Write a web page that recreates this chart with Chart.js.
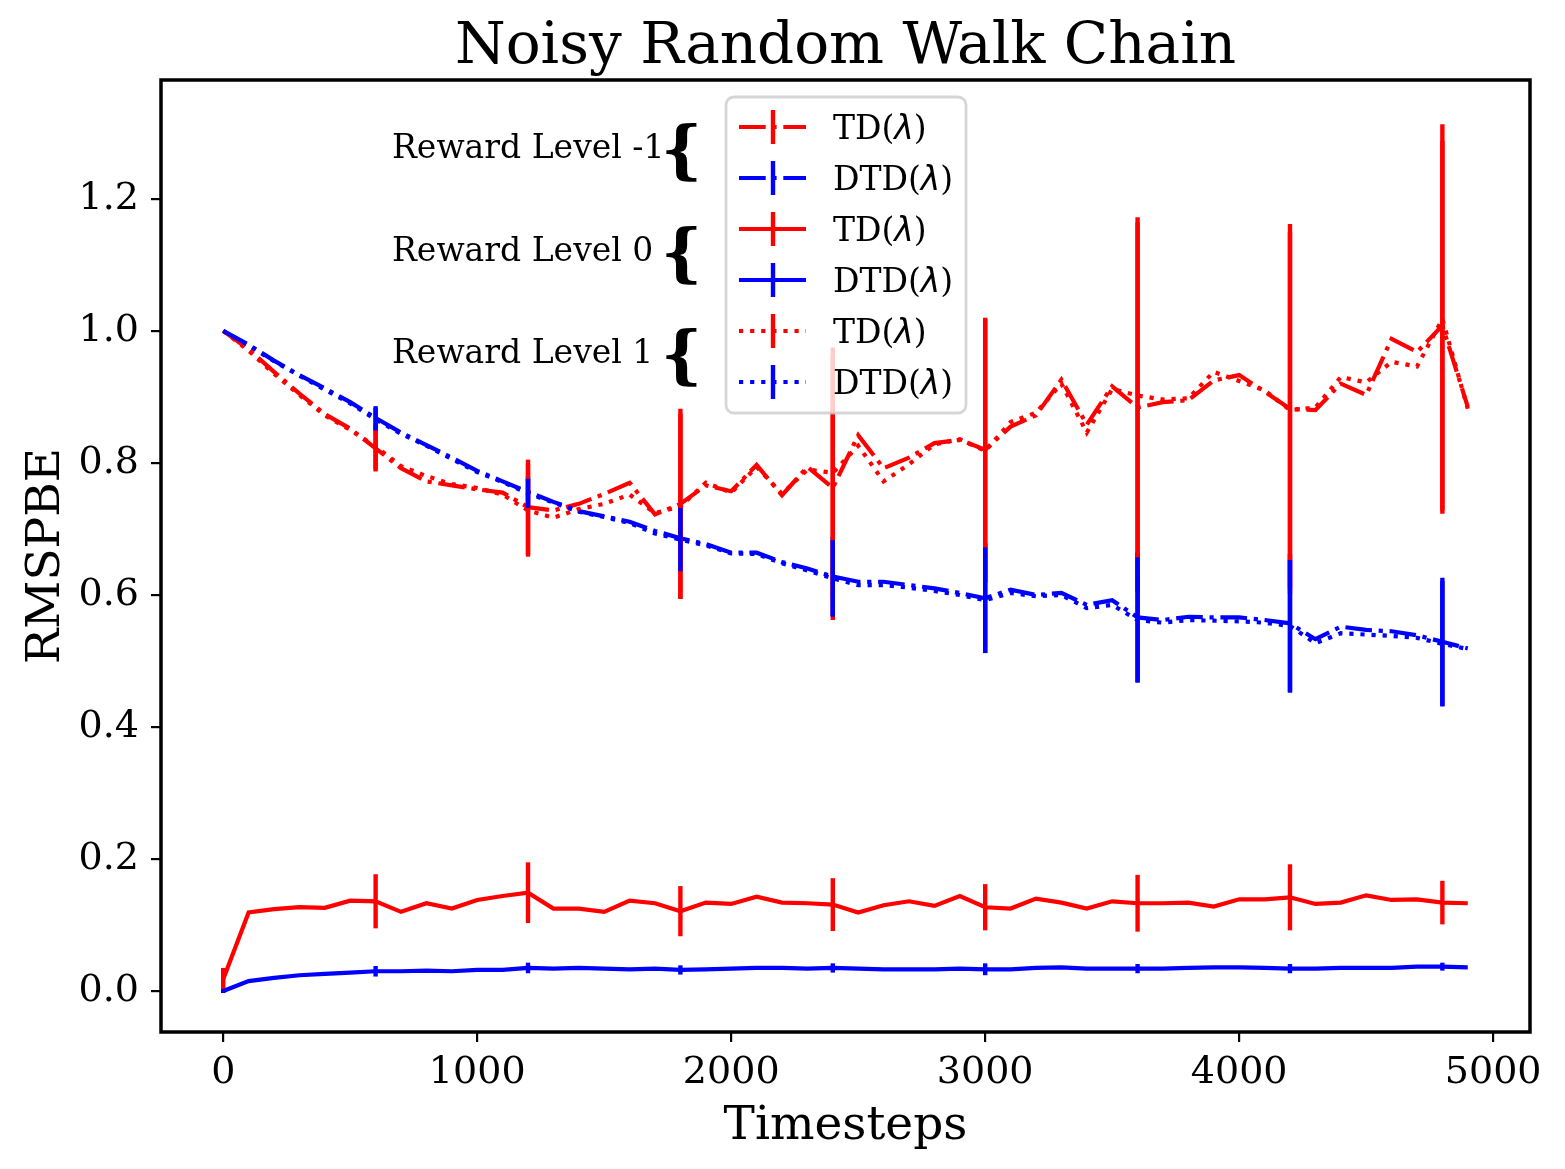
<!DOCTYPE html>
<html>
<head>
<meta charset="utf-8">
<title>Noisy Random Walk Chain</title>
<script src="https://cdn.jsdelivr.net/npm/chart.js@4.4.0/dist/chart.umd.min.js"></script>
<style>
    html, body { margin: 0; padding: 0; background: #fff; }
    #wrap { width: 1565px; height: 1169px; position: relative; }
</style>
</head>
<body>
<div id="wrap"><canvas id="chart"></canvas></div>
<script>
// data
const timesteps = [0, 100, 200, 300, 400, 500, 600, 700, 800, 900,
    1000, 1100, 1200, 1300, 1400, 1500, 1600, 1700, 1800, 1900,
    2000, 2100, 2200, 2300, 2400, 2500, 2600, 2700, 2800, 2900,
    3000, 3100, 3200, 3300, 3400, 3500, 3600, 3700, 3800, 3900,
    4000, 4100, 4200, 4300, 4400, 4500, 4600, 4700, 4800, 4900];

const errorTimes = [0, 600, 1200, 1800, 2400, 3000, 3600, 4200, 4800];

const xTicks = [0, 1000, 2000, 3000, 4000, 5000];
const yTicks = [0.0, 0.2, 0.4, 0.6, 0.8, 1.0, 1.2];

// reward level -1
const tdNeg = [1.000, 0.972, 0.938, 0.905, 0.874, 0.852, 0.822, 0.792, 0.772, 0.766,
    0.760, 0.755, 0.733, 0.728, 0.738, 0.753, 0.770, 0.722, 0.738, 0.766,
    0.757, 0.797, 0.751, 0.794, 0.762, 0.842, 0.792, 0.808, 0.830, 0.835,
    0.820, 0.855, 0.872, 0.926, 0.858, 0.916, 0.884, 0.892, 0.895, 0.925,
    0.933, 0.908, 0.882, 0.880, 0.920, 0.903, 0.988, 0.968, 1.008, 0.885];
const dtdNeg = [1.000, 0.979, 0.955, 0.933, 0.913, 0.892, 0.868, 0.846, 0.827, 0.808,
    0.788, 0.772, 0.756, 0.741, 0.727, 0.719, 0.711, 0.697, 0.686, 0.677,
    0.664, 0.664, 0.650, 0.640, 0.628, 0.620, 0.620, 0.615, 0.610, 0.603,
    0.595, 0.608, 0.600, 0.603, 0.585, 0.592, 0.566, 0.562, 0.567, 0.566,
    0.566, 0.562, 0.557, 0.533, 0.552, 0.547, 0.545, 0.539, 0.529, 0.519];
const tdNegErr = [0.0, 0.035, 0.072, 0.144, 0.20, 0.20, 0.28, 0.28, 0.28];
const dtdNegErr = [0.0, 0.018, 0.023, 0.050, 0.060, 0.083, 0.098, 0.105, 0.097];

// reward level 0
const tdZero = [0.018, 0.119, 0.124, 0.127, 0.126, 0.137, 0.136, 0.120, 0.133, 0.125,
    0.138, 0.144, 0.149, 0.125, 0.125, 0.120, 0.137, 0.133, 0.121, 0.134,
    0.132, 0.143, 0.134, 0.133, 0.131, 0.119, 0.130, 0.136, 0.129, 0.144,
    0.127, 0.125, 0.140, 0.134, 0.125, 0.136, 0.133, 0.133, 0.134, 0.128,
    0.139, 0.139, 0.142, 0.132, 0.134, 0.145, 0.138, 0.139, 0.134, 0.133];
const dtdZero = [0.000, 0.015, 0.020, 0.024, 0.026, 0.028, 0.030, 0.030, 0.031, 0.030,
    0.032, 0.032, 0.035, 0.034, 0.035, 0.034, 0.033, 0.034, 0.032, 0.033,
    0.034, 0.035, 0.035, 0.034, 0.035, 0.034, 0.033, 0.033, 0.033, 0.034,
    0.033, 0.033, 0.035, 0.036, 0.034, 0.034, 0.034, 0.034, 0.035, 0.036,
    0.036, 0.035, 0.034, 0.034, 0.035, 0.035, 0.035, 0.037, 0.037, 0.036];
const tdZeroErr = [0.017, 0.041, 0.046, 0.038, 0.040, 0.035, 0.043, 0.050, 0.033];
const dtdZeroErr = [0.003, 0.008, 0.008, 0.007, 0.007, 0.009, 0.007, 0.007, 0.006];

// reward level 1
const tdPos = [1.000, 0.970, 0.935, 0.903, 0.872, 0.850, 0.825, 0.795, 0.780, 0.768,
    0.762, 0.752, 0.728, 0.717, 0.730, 0.738, 0.752, 0.724, 0.734, 0.770,
    0.755, 0.794, 0.753, 0.790, 0.785, 0.826, 0.772, 0.798, 0.828, 0.836,
    0.818, 0.862, 0.876, 0.920, 0.846, 0.912, 0.902, 0.896, 0.898, 0.938,
    0.924, 0.910, 0.880, 0.884, 0.930, 0.922, 0.953, 0.946, 1.018, 0.882];
const dtdPos = [1.000, 0.978, 0.954, 0.932, 0.911, 0.890, 0.866, 0.844, 0.826, 0.806,
    0.786, 0.771, 0.754, 0.740, 0.726, 0.718, 0.709, 0.693, 0.684, 0.675,
    0.663, 0.662, 0.648, 0.637, 0.625, 0.615, 0.615, 0.611, 0.606, 0.600,
    0.592, 0.603, 0.598, 0.600, 0.580, 0.585, 0.562, 0.558, 0.562, 0.561,
    0.560, 0.558, 0.553, 0.527, 0.542, 0.540, 0.538, 0.535, 0.526, 0.518];
const tdPosErr = [0.0, 0.035, 0.070, 0.140, 0.19, 0.20, 0.27, 0.27, 0.295];
const dtdPosErr = [0.0, 0.017, 0.022, 0.048, 0.058, 0.080, 0.095, 0.100, 0.095];

const rewardLabels = ['Reward Level -1', 'Reward Level 0', 'Reward Level 1'];

const RED = '#ff0000';
const BLUE = '#0000ff';
const DASHDOT = [26.7, 6.7, 4.2, 6.7];
const DOTTED = [4.2, 6.9];
const SERIF = "'DejaVu Serif', 'Liberation Serif', serif";

// build a dataset from a value array
function makeSeries(label, values, errors, color, dash, idx) {
    return {
        label: label,
        data: timesteps.map((t, i) => ({ x: t, y: values[i] })),
        errors: errors,
        borderColor: color,
        borderWidth: 4.2,
        borderDash: dash,
        pointRadius: 0,
        tension: 0,
        fill: false,
        order: 10 - idx
    };
}

const datasets = [
    makeSeries('TD(λ)', tdNeg, tdNegErr, RED, DASHDOT, 0),
    makeSeries('DTD(λ)', dtdNeg, dtdNegErr, BLUE, DASHDOT, 1),
    makeSeries('TD(λ)', tdZero, tdZeroErr, RED, [], 2),
    makeSeries('DTD(λ)', dtdZero, dtdZeroErr, BLUE, [], 3),
    makeSeries('TD(λ)', tdPos, tdPosErr, RED, DOTTED, 4),
    makeSeries('DTD(λ)', dtdPos, dtdPosErr, BLUE, DOTTED, 5)
];

// vertical error bars, drawn right after each line
const errorBarPlugin = {
    id: 'errorBars',
    afterDatasetDraw(chart, args) {
        const ds = chart.data.datasets[args.index];
        if (!ds.errors) return;
        const { ctx, chartArea, scales } = chart;
        ctx.save();
        ctx.beginPath();
        ctx.rect(chartArea.left, chartArea.top, chartArea.width, chartArea.height);
        ctx.clip();
        ctx.strokeStyle = ds.borderColor;
        ctx.lineWidth = 4.4;
        ctx.setLineDash([]);
        errorTimes.forEach((t, i) => {
            const v = ds.data[timesteps.indexOf(t)].y;
            const e = ds.errors[i];
            const px = scales.x.getPixelForValue(t);
            ctx.beginPath();
            ctx.moveTo(px, scales.y.getPixelForValue(v - e));
            ctx.lineTo(px, scales.y.getPixelForValue(v + e));
            ctx.stroke();
        });
        ctx.restore();
    }
};

// axes frame, legend and reward level notes
const decorPlugin = {
    id: 'decor',
    afterDatasetsDraw(chart) {
        const { ctx, chartArea } = chart;
        ctx.save();
        ctx.strokeStyle = '#000';
        ctx.lineWidth = 3.5;
        ctx.setLineDash([]);
        ctx.strokeRect(chartArea.left, chartArea.top, chartArea.width, chartArea.height);
        ctx.restore();
    },
    afterDraw(chart) {
        const ctx = chart.ctx;
        ctx.save();

        // reward level notes with braces
        ctx.fillStyle = '#000';
        ctx.textBaseline = 'alphabetic';
        ctx.textAlign = 'left';
        rewardLabels.forEach((txt, i) => {
            const cy = 150 + i * 102.5;
            ctx.font = '33px ' + SERIF;
            ctx.fillText(txt, 392, cy + 8);
            ctx.font = 'bold 64px ' + SERIF;
            ctx.fillText('{', 661, cy + 21);
        });

        // legend box
        const bx = 726, by = 97, bw = 240, bh = 316, r = 8;
        ctx.beginPath();
        ctx.moveTo(bx + r, by);
        ctx.arcTo(bx + bw, by, bx + bw, by + bh, r);
        ctx.arcTo(bx + bw, by + bh, bx, by + bh, r);
        ctx.arcTo(bx, by + bh, bx, by, r);
        ctx.arcTo(bx, by, bx + bw, by, r);
        ctx.closePath();
        ctx.fillStyle = 'rgba(255,255,255,0.8)';
        ctx.fill();
        ctx.strokeStyle = 'rgba(204,204,204,0.8)';
        ctx.lineWidth = 2.8;
        ctx.stroke();

        chart.data.datasets.forEach((ds, i) => {
            const ry = 127 + i * 51;
            ctx.strokeStyle = ds.borderColor;
            ctx.lineWidth = 4.2;
            ctx.setLineDash(ds.borderDash);
            ctx.beginPath();
            ctx.moveTo(739, ry);
            ctx.lineTo(806, ry);
            ctx.stroke();
            ctx.setLineDash([]);
            ctx.lineWidth = 4.4;
            ctx.beginPath();
            ctx.moveTo(773, ry - 17);
            ctx.lineTo(773, ry + 17);
            ctx.stroke();

            // label: name + italic lambda
            const name = ds.label.replace('(λ)', '');
            ctx.fillStyle = '#000';
            let tx = 833;
            const base = ry + 12;
            ctx.font = '33px ' + SERIF;
            ctx.fillText(name + '(', tx, base);
            tx += ctx.measureText(name + '(').width;
            ctx.font = "italic 33px 'DejaVu Sans', sans-serif";
            ctx.fillText('λ', tx, base);
            tx += ctx.measureText('λ').width;
            ctx.font = '33px ' + SERIF;
            ctx.fillText(')', tx, base);
        });
        ctx.restore();
    }
};

function initChart() {
    const ctx = document.getElementById('chart').getContext('2d');
    new Chart(ctx, {
        type: 'line',
        data: { datasets: datasets },
        options: {
            responsive: true,
            maintainAspectRatio: false,
            animation: false,
            layout: { padding: { left: 0, right: 35, top: 0, bottom: 0 } },
            plugins: {
                legend: { display: false },
                tooltip: { enabled: false },
                title: {
                    display: true,
                    text: 'Noisy Random Walk Chain',
                    color: '#000',
                    fullSize: false,
                    font: { family: SERIF, size: 58, weight: 'normal', lineHeight: 1.1 },
                    padding: { top: 16, bottom: 0.2 }
                }
            },
            scales: {
                x: {
                    type: 'linear',
                    min: -245,
                    max: 5145,
                    afterBuildTicks: (scale) => { scale.ticks = xTicks.map(v => ({ value: v })); },
                    afterFit: (scale) => { scale.height = 137; },
                    border: { display: false },
                    grid: { drawOnChartArea: false, drawTicks: true, tickLength: 10, color: '#000', lineWidth: 2.2 },
                    ticks: {
                        color: '#000',
                        padding: 8,
                        maxRotation: 0,
                        font: { family: SERIF, size: 38 },
                        callback: (v) => String(v)
                    },
                    title: {
                        display: true,
                        text: 'Timesteps',
                        color: '#000',
                        font: { family: SERIF, size: 47 },
                        padding: { top: 0, bottom: 14 }
                    }
                },
                y: {
                    type: 'linear',
                    min: -0.062,
                    max: 1.380,
                    afterBuildTicks: (scale) => { scale.ticks = yTicks.map(v => ({ value: v })); },
                    afterFit: (scale) => { scale.width = 161; },
                    border: { display: false },
                    grid: { drawOnChartArea: false, drawTicks: true, tickLength: 10, color: '#000', lineWidth: 2.2 },
                    ticks: {
                        color: '#000',
                        padding: 12,
                        font: { family: SERIF, size: 38 },
                        callback: (v) => v.toFixed(1)
                    },
                    title: {
                        display: true,
                        text: 'RMSPBE',
                        color: '#000',
                        font: { family: SERIF, size: 47 },
                        padding: { top: 19, bottom: 0 }
                    }
                }
            }
        },
        plugins: [errorBarPlugin, decorPlugin]
    });
}

document.addEventListener('DOMContentLoaded', () => {
    initChart();
});
</script>
</body>
</html>
